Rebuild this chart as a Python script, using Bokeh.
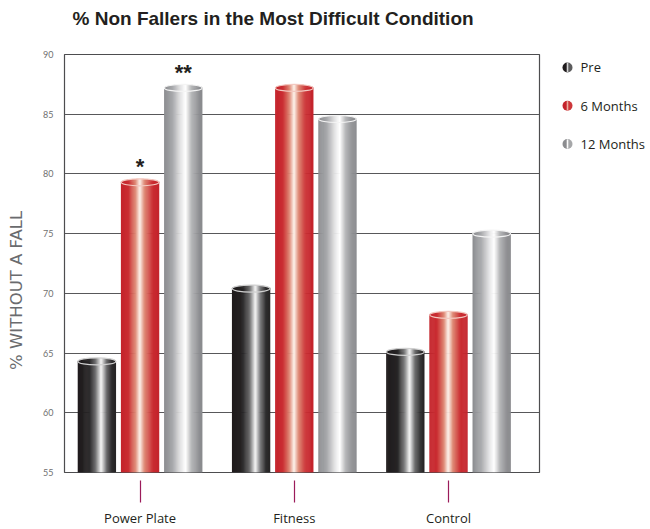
import numpy as np
from bokeh.plotting import figure
from bokeh.models import Range1d, Label, FixedTicker, ColumnDataSource
from bokeh.layouts import row, column
from bokeh.core.properties import value
from bokeh.embed import file_html
from bokeh.resources import INLINE

# ---- data ----
categories = ["Power Plate", "Fitness", "Control"]
series = ["Pre", "6 Months", "12 Months"]
pre = [64.3, 70.4, 65.1]
six_months = [79.3, 87.2, 68.2]
twelve_months = [87.2, 84.6, 75.0]
y_ticks = [55, 60, 65, 70, 75, 80, 85, 90]
annotations = [("*", 0, 1), ("**", 0, 2)]  # (text, category index, series index)
title_text = "% Non Fallers in the Most Difficult Condition"
y_title = "% WITHOUT A FALL"

values = [pre, six_months, twelve_months]

# ---- styles ----
stops = {
    "Pre": [(0.0, "#1f1b1c"), (0.3, "#262425"), (0.47, "#707071"), (0.62, "#f7f7f7"),
            (0.76, "#6f6f70"), (0.9, "#2e2d2e"), (1.0, "#262425")],
    "6 Months": [(0.0, "#c4232b"), (0.2, "#ca2d32"), (0.38, "#de8672"), (0.5, "#fdf3ec"),
                 (0.62, "#df8c78"), (0.82, "#cb2e33"), (1.0, "#c3232b")],
    "12 Months": [(0.0, "#8b8c8f"), (0.22, "#a7a8ab"), (0.45, "#e7e7e8"), (0.57, "#ffffff"),
                  (0.72, "#b7b8ba"), (0.9, "#909194"), (1.0, "#898a8d")],
}
cap_line = {"Pre": "#d0d0d0", "6 Months": "#f3c8c0", "12 Months": "#f4f4f4"}
offsets = [-0.28, 0.0, 0.28]
bar_w = 0.245
n_strips = 40

W, H = 650, 529
TITLE_H = 40
YT_W = 30
LEG_W = 109
MAIN_W = W - YT_W - LEG_W
MAIN_H = H - TITLE_H
FRAME_TOP, FRAME_BOTTOM, FRAME_LEFT, FRAME_RIGHT = 54, 474, 64, 539
# side strips share the main frame's vertical extent (row aligns frames)
SIDE_YR = (H - FRAME_BOTTOM, H - FRAME_TOP)


def hex2rgb(h):
    h = h.lstrip("#")
    return np.array([int(h[i:i + 2], 16) for i in (0, 2, 4)], dtype=float)


def grad(st, t):
    for (t0, c0), (t1, c1) in zip(st[:-1], st[1:]):
        if t0 <= t <= t1:
            f = (t - t0) / (t1 - t0)
            c = hex2rgb(c0) * (1 - f) + hex2rgb(c1) * f
            return "#%02x%02x%02x" % tuple(int(round(v)) for v in c)
    return st[-1][1]


def blank(width, height, xr, yr):
    f = figure(width=width, height=height, output_backend="svg", toolbar_location=None,
               x_range=Range1d(*xr), y_range=Range1d(*yr), min_border=0,
               background_fill_color="white", border_fill_color="white")
    f.axis.visible = False
    f.grid.visible = False
    f.outline_line_color = None
    return f


# ---- title strip ----
tfig = blank(W, TITLE_H, (0, W), (0, TITLE_H))
tfig.text(x=[72], y=[TITLE_H - 18], text=[title_text], text_baseline="middle",
          text_align="left", text_font=value("Liberation Sans"), text_font_style="bold",
          text_font_size="19px", text_color="#231f20")

# ---- y title strip ----
yfig = blank(YT_W, MAIN_H, (0, YT_W), SIDE_YR)
yfig.text(x=[16], y=[H - 291], text=[y_title], angle=np.pi / 2, text_baseline="middle",
          text_align="center", text_font=value("DejaVu Sans"), text_font_size="16.5px",
          text_color="#6a6b6e")

# ---- main chart ----
p = figure(width=MAIN_W, height=MAIN_H, output_backend="svg", toolbar_location=None,
           x_range=Range1d(-0.49, 2.59), y_range=Range1d(55, 90),
           min_border_left=FRAME_LEFT - YT_W,
           min_border_right=MAIN_W - (FRAME_RIGHT - YT_W),
           min_border_top=FRAME_TOP - TITLE_H,
           min_border_bottom=MAIN_H - (FRAME_BOTTOM - TITLE_H),
           background_fill_color="white", border_fill_color="white")

p.outline_line_color = "#4d4d4f"
p.outline_line_width = 1.2
p.xgrid.grid_line_color = None
p.ygrid.grid_line_color = "#58585a"
p.ygrid.grid_line_width = 1.2
p.ygrid.ticker = FixedTicker(ticks=y_ticks)

p.yaxis.ticker = FixedTicker(ticks=y_ticks)
p.yaxis.axis_line_color = None
p.yaxis.major_tick_line_color = None
p.yaxis.minor_tick_line_color = None
p.yaxis.major_label_text_font = "Lato"
p.yaxis.major_label_text_font_size = "9px"
p.yaxis.major_label_text_color = "#707070"
p.yaxis.major_label_standoff = 5

p.xaxis.ticker = FixedTicker(ticks=list(range(len(categories))))
p.xaxis.major_label_overrides = {i: c for i, c in enumerate(categories)}
p.xaxis.axis_line_color = None
p.xaxis.minor_tick_line_color = None
p.xaxis.major_tick_line_color = "#9b1b5a"
p.xaxis.major_tick_line_width = 1.2
p.xaxis.major_tick_in = -8
p.xaxis.major_tick_out = 30
p.xaxis.major_label_standoff = 6
p.xaxis.major_label_text_font = "Open Sans"
p.xaxis.major_label_text_font_size = "13px"
p.xaxis.major_label_text_color = "#231f20"

for si, s in enumerate(series):
    vals = values[si]
    xs, tops, cols, cap_h = [], [], [], []
    sw = bar_w / n_strips
    for ci in range(len(categories)):
        x0 = ci + offsets[si] - bar_w / 2
        for k in range(n_strips):
            t = (k + 0.5) / n_strips
            xs.append(x0 + t * bar_w)
            tops.append(vals[ci])
            cols.append(grad(stops[s], t))
            cap_h.append(7.0 * np.sqrt(max(0.0, 1 - (2 * t - 1) ** 2)))
    src = ColumnDataSource(dict(x=xs, top=tops, c=cols, h=cap_h))
    p.vbar(x="x", top="top", bottom=55, width=sw * 1.6, fill_color="c", line_color=None, source=src)
    p.rect(x="x", y="top", width=sw * 1.6, height="h", height_units="screen",
           fill_color="c", line_color=None, source=src)
    csrc = ColumnDataSource(dict(x=[ci + offsets[si] for ci in range(len(categories))], y=vals))
    p.ellipse(x="x", y="y", width=bar_w, height=7, height_units="screen",
              fill_color=None, line_color=cap_line[s], line_width=1.2, source=csrc)

for txt, ci, si in annotations:
    p.add_layout(Label(x=ci + offsets[si], y=values[si][ci], text=txt, y_offset=3,
                       text_align="center", text_baseline="bottom",
                       text_font="Liberation Sans", text_font_style="bold",
                       text_font_size="22px", text_color="#231f20"))

# ---- legend strip ----
lfig = blank(LEG_W, MAIN_H, (W - LEG_W, W), SIDE_YR)
row_y = [H - (67 + 38.5 * i) for i in range(len(series))]
gx = 567
lfig.wedge(x=[gx] * 3, y=row_y, radius=5, radius_units="screen",
           start_angle=np.pi / 2, end_angle=3 * np.pi / 2,
           fill_color=[stops[s][0][1] for s in series], line_color=None)
lfig.wedge(x=[gx] * 3, y=row_y, radius=5, radius_units="screen",
           start_angle=-np.pi / 2, end_angle=np.pi / 2,
           fill_color=[grad(stops[s], 0.8) for s in series], line_color=None)
lfig.scatter(x=[gx] * 3, y=row_y, marker="dash", angle=np.pi / 2, size=9,
             line_color=[grad(stops[s], 0.58) for s in series], line_width=1.6)
lfig.text(x=[580] * 3, y=row_y, text=series, text_baseline="middle", text_align="left",
          text_font=value("Open Sans"), text_font_size="13px", text_color="#231f20")

layout = column(tfig, row(yfig, p, lfig, spacing=0), spacing=0)

open("out.html", "w").write(file_html(layout, INLINE))
